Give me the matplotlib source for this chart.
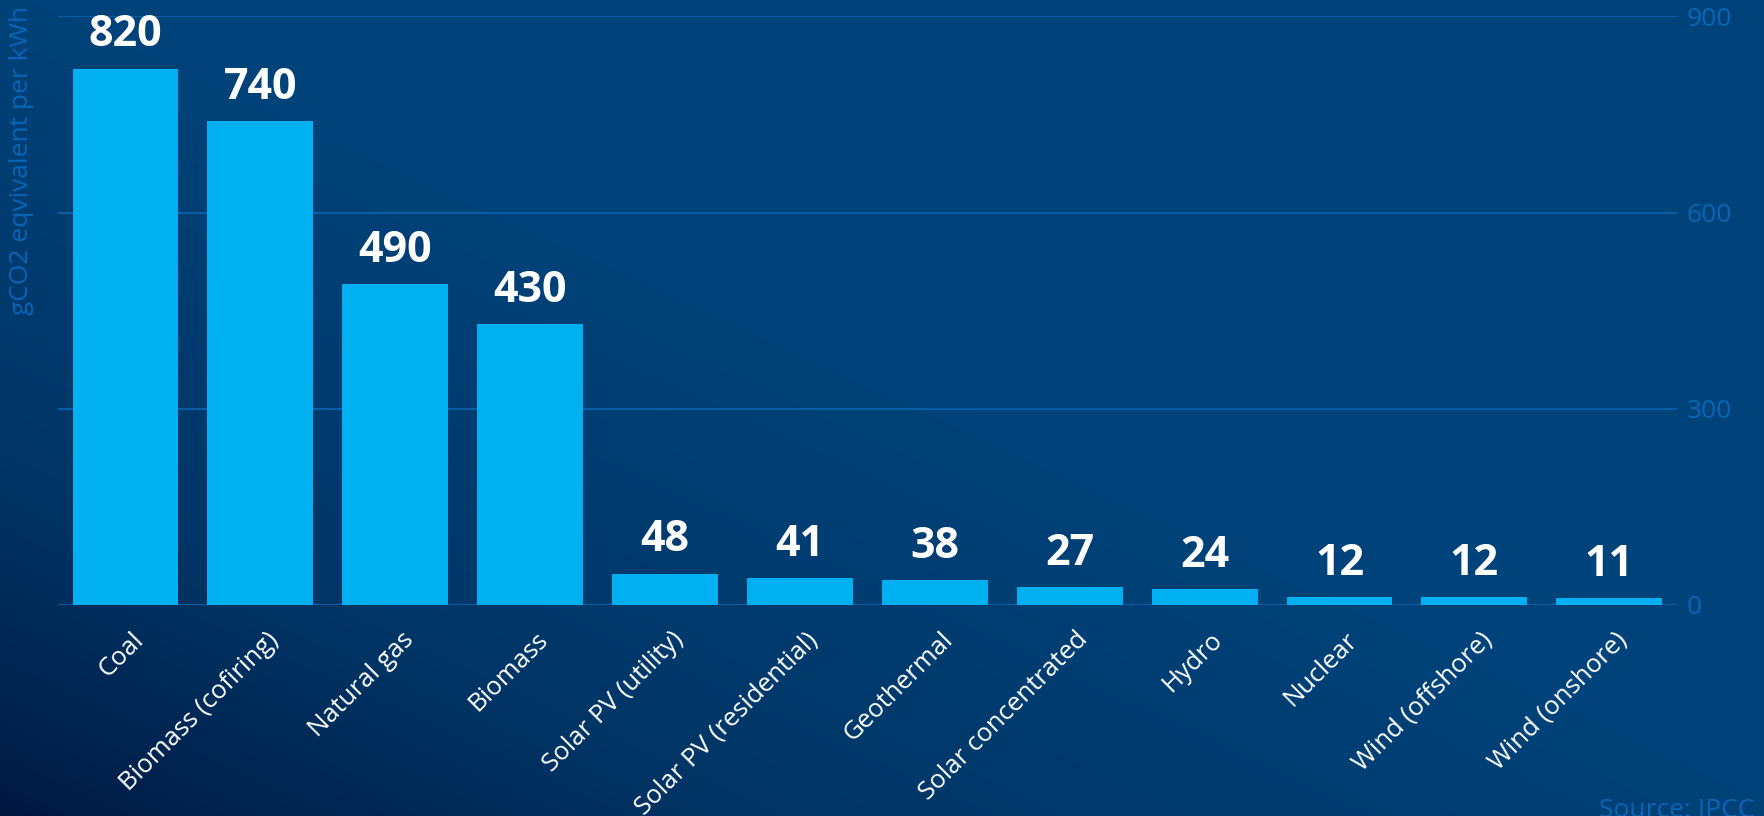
import numpy as np
import matplotlib
matplotlib.use('Agg')
import matplotlib.pyplot as plt
import matplotlib.transforms as mtransforms
from matplotlib.colors import LinearSegmentedColormap

plt.rcParams['font.family'] = ['Open Sans', 'DejaVu Sans']

# ── Data: lifecycle emissions, gCO2eq per kWh (IPCC) ──
sources = ['Coal', 'Biomass (cofiring)', 'Natural gas', 'Biomass',
           'Solar PV (utility)', 'Solar PV (residential)', 'Geothermal',
           'Solar concentrated', 'Hydro', 'Nuclear', 'Wind (offshore)',
           'Wind (onshore)']
emissions = [820, 740, 490, 430, 48, 41, 38, 27, 24, 12, 12, 11]
y_ticks = [0, 300, 600, 900]

BAR = '#00B0F0'
GRID = '#0A62AE'
TICK = '#0A65B5'

fig = plt.figure(figsize=(17.65, 8.16), dpi=100)

# ── Background gradient (dark bottom-left -> lighter top/right) ──
bg = fig.add_axes([0, 0, 1, 1], zorder=-10)
gx, gy = np.meshgrid(np.linspace(0, 1, 400), np.linspace(0, 1, 200))
t = np.clip((gx + gy) * 0.95, 0, 1) ** 0.8
cmap = LinearSegmentedColormap.from_list('bg', ['#00173F', '#003566', '#00437A'])
bg.imshow(t, cmap=cmap, origin='lower', extent=[0, 1, 0, 1], aspect='auto')
bg.axis('off')

ax = fig.add_axes([0.0329, 0.2586, 0.9171, 0.7214])
ax.set_facecolor('none')

x = np.arange(len(sources))
ax.bar(x, emissions, width=0.785, color=BAR, zorder=3)

for xi, v in zip(x, emissions):
    ax.annotate(f'{v}', (xi, v), xytext=(0, 16), textcoords='offset points',
                ha='center', va='baseline', fontsize=31, fontweight='bold',
                color='white', zorder=4)

ax.set_xlim(-0.5, len(sources) - 0.5)
ax.set_ylim(0, 900)
ax.set_yticks(y_ticks)
ax.yaxis.tick_right()
ax.tick_params(axis='y', length=0, pad=7, labelsize=19, labelcolor=TICK)
ax.grid(axis='y', color=GRID, linewidth=1.3, zorder=0)

ax.set_xticks(x)
ax.set_xticklabels(sources, rotation=45, ha='right', rotation_mode='anchor',
                   color='white', fontsize=18.5)
ax.tick_params(axis='x', length=0, pad=16)
offset = mtransforms.ScaledTranslation(4 / 72, 0, fig.dpi_scale_trans)
for lbl in ax.get_xticklabels():
    lbl.set_transform(lbl.get_transform() + offset)

for s in ax.spines.values():
    s.set_visible(False)

fig.text(22 / 1765, 1 - 6 / 816, 'gCO2 eqvivalent per kWh', rotation=90,
         ha='center', va='top', fontsize=19, color=TICK)
fig.text(1599 / 1765, 1 - 798 / 816, 'Source: IPCC', ha='left', va='top',
         fontsize=19, color=TICK)

fig.savefig('out.png', dpi=100)
